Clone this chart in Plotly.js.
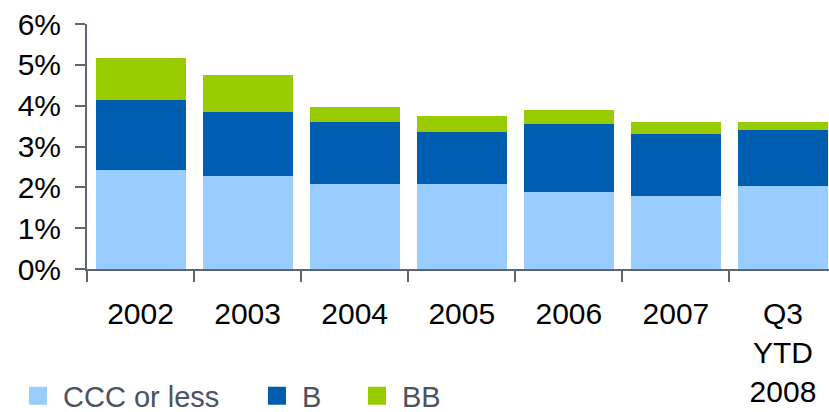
<!DOCTYPE html>
<html>
<head>
<meta charset="utf-8">
<script src="https://cdn.plot.ly/plotly-3.0.1.min.js"></script>
<style>
  html, body { margin: 0; padding: 0; background: #ffffff; overflow: hidden; }
  #chart { width: 829px; height: 412px; }
</style>
</head>
<body>
<div id="chart"></div>
<script>
// Category labels
const categories = ["2002", "2003", "2004", "2005", "2006", "2007", "Q3<br>YTD<br>2008"];
// Series values (percent, stacked)
const cccOrLess = [2.42, 2.27, 2.08, 2.08, 1.88, 1.78, 2.03];
const bRated    = [1.72, 1.58, 1.52, 1.27, 1.67, 1.52, 1.37];
const bbRated   = [1.03, 0.90, 0.37, 0.39, 0.34, 0.30, 0.20];
// Series names and y tick values
const seriesNames = ["CCC or less", "B", "BB"];
const yTicks = [0, 1, 2, 3, 4, 5, 6];

const colors = ["#99CCFF", "#005EB0", "#99CC00"];
const axisColor = "#5F6673";
const font = "Liberation Sans, Arial, Helvetica, sans-serif";

const seriesData = [cccOrLess, bRated, bbRated];
const traces = seriesData.map((vals, i) => ({
  type: "bar",
  x: categories,
  y: vals,
  name: seriesNames[i],
  marker: { color: colors[i], line: { width: 0 } },
  showlegend: false,
  hoverinfo: "x+y+name"
}));

// legend entries (one legend per series for exact placement)
const legendNames = ["legend", "legend2", "legend3"];
seriesNames.forEach((n, i) => {
  traces.push({
    type: "scatter",
    mode: "markers",
    x: [null],
    y: [null],
    name: n,
    legend: legendNames[i],
    marker: { symbol: "square", size: 16, color: colors[i], line: { color: colors[i], width: 2 } },
    showlegend: true,
    hoverinfo: "skip"
  });
});

const plotLeft = 87, plotWidth = 742;
function px(xpx) { return (xpx - plotLeft) / plotWidth; }
const legendFont = { family: font, size: 29, color: "#4B5261" };
function legendCfg(xpx) {
  return {
    orientation: "h",
    x: px(xpx), xanchor: "left",
    y: 0.101, yanchor: "top", yref: "container",
    font: legendFont,
    bgcolor: "rgba(0,0,0,0)",
    borderwidth: 0,
    itemsizing: "trace",
    itemwidth: 40
  };
}

const layout = {
  width: 829,
  height: 412,
  margin: { l: 87, r: 0, t: 24, b: 143 },
  paper_bgcolor: "#ffffff",
  plot_bgcolor: "#ffffff",
  barmode: "stack",
  bargap: 0.16,
  showlegend: true,
  xaxis: {
    type: "category",
    range: [-0.5, 6.43],
    showgrid: false,
    zeroline: false,
    showline: true,
    linecolor: axisColor,
    linewidth: 2,
    ticks: "outside",
    tickson: "boundaries",
    ticklen: 11,
    tickwidth: 2,
    tickcolor: axisColor,
    ticklabelstandoff: 17,
    tickfont: { family: font, size: 30, color: "#000000" },
    fixedrange: true
  },
  yaxis: {
    range: [0, 6],
    tickvals: yTicks,
    ticktext: yTicks.map(v => v + "%"),
    showgrid: false,
    zeroline: false,
    showline: true,
    linecolor: axisColor,
    linewidth: 2,
    ticks: "outside",
    ticklen: 10,
    tickwidth: 2,
    tickcolor: axisColor,
    ticklabelstandoff: 8,
    tickfont: { family: font, size: 30, color: "#000000" },
    fixedrange: true
  },
  legend: legendCfg(13),
  legend2: legendCfg(252),
  legend3: legendCfg(352)
};

Plotly.newPlot("chart", traces, layout, { displayModeBar: false, staticPlot: true });
</script>
</body>
</html>
